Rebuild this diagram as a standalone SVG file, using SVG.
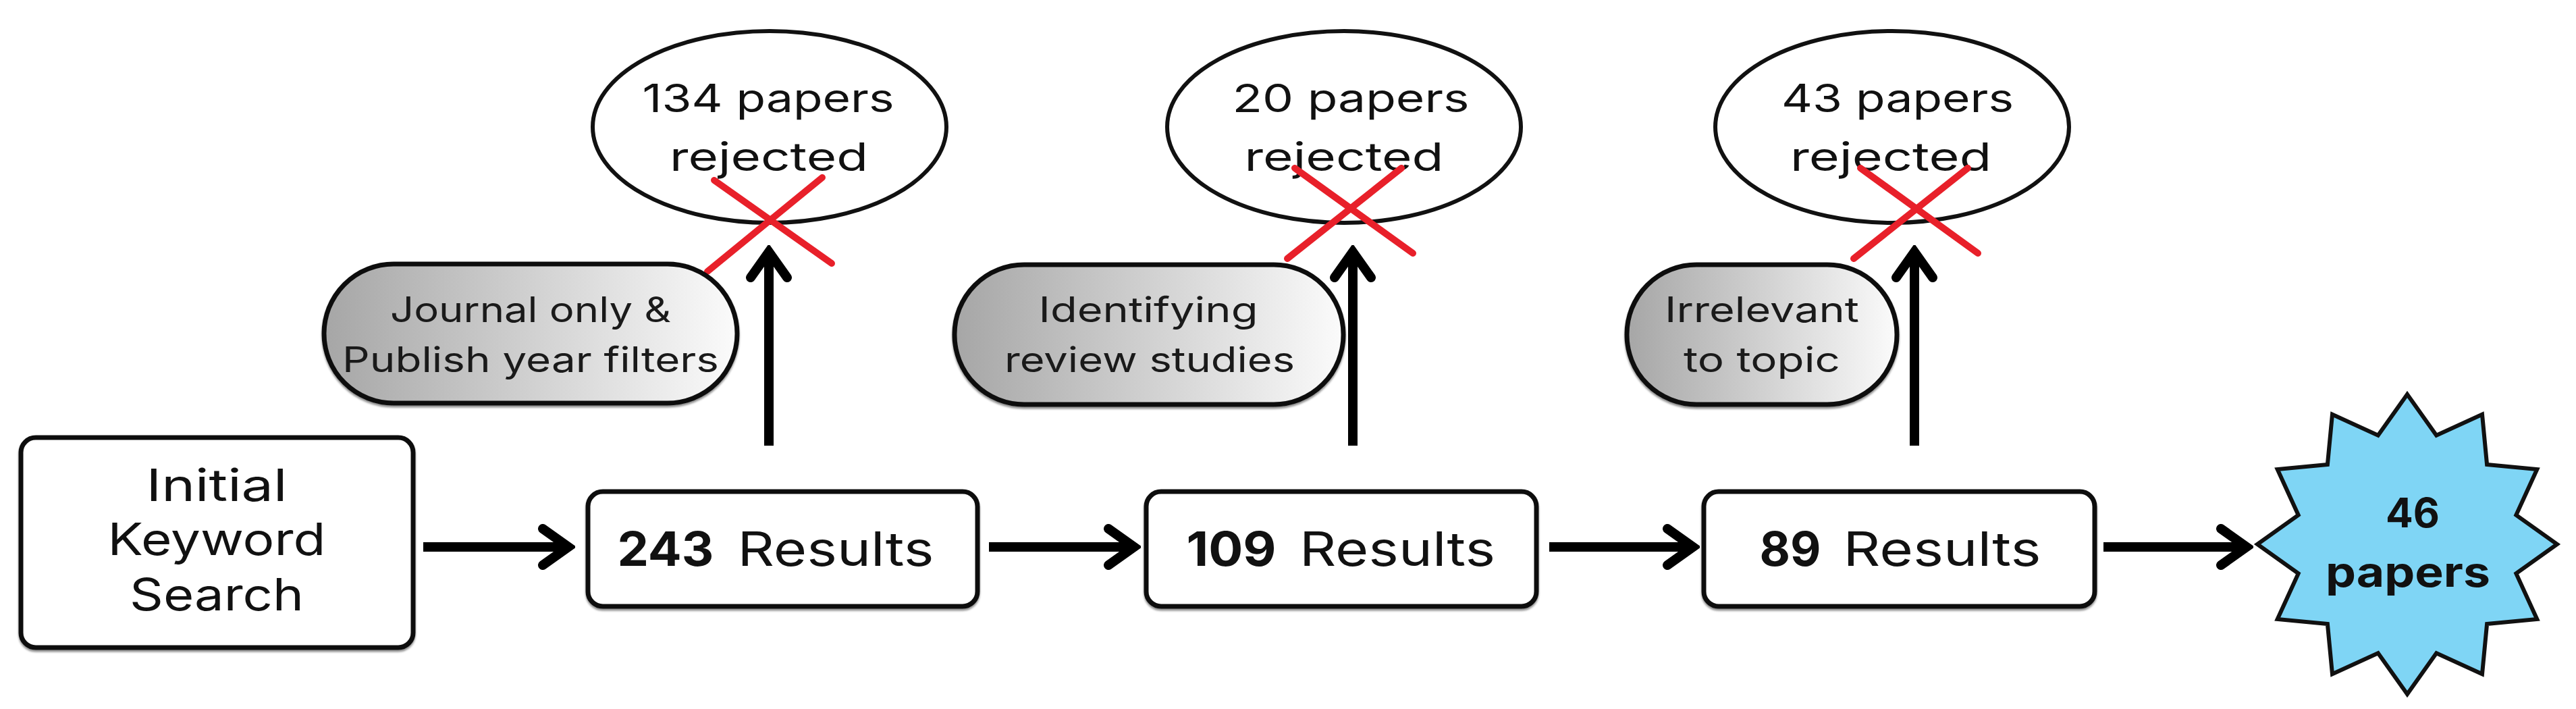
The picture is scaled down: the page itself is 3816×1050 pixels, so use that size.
<svg xmlns="http://www.w3.org/2000/svg" width="3816" height="1050" viewBox="0 0 3816 1050">
<style>
.box{fill:#ffffff;stroke:#111;stroke-width:7;filter:url(#shadow)}
.oval{fill:#ffffff;stroke:#111;stroke-width:6}
.pill{fill:url(#pillGrad);stroke:#111;stroke-width:7;filter:url(#shadow)}
.star{fill:#7fd5f5;stroke:#111;stroke-width:6;stroke-linejoin:miter}
.conn{stroke:#000;stroke-width:14;fill:none}
.cross{stroke:#e8202a;stroke-width:10;stroke-linecap:round;fill:none}
.t{font-family:Inter,Lato,"Liberation Sans",sans-serif;fill:#111;text-anchor:middle}
.ini{font-size:66px}
.res{font-size:70px}
.ov{font-size:58px}
.pl{font-size:52px;fill:#1a1a1a}
.b{font-weight:700}
</style>
<defs>
<linearGradient id="pillGrad" x1="0" y1="0" x2="1" y2="0">
<stop offset="0" stop-color="#a6a6a6"/>
<stop offset="1" stop-color="#fbfbfb"/>
</linearGradient>
<filter id="shadow" x="-5%" y="-5%" width="110%" height="115%">
<feDropShadow dx="0" dy="3" stdDeviation="1.5" flood-color="#000" flood-opacity="0.45"/>
</filter>
<marker id="arrow" markerUnits="userSpaceOnUse" viewBox="-50 -40 60 80" refX="0" refY="0" markerWidth="60" markerHeight="80" orient="auto">
<path d="M -38 -27 L 0 0 L -38 27" fill="none" stroke="#000" stroke-width="14" stroke-linecap="round" stroke-linejoin="miter"/>
</marker>
</defs>

<g id="connectors">
<line class="conn" x1="627" y1="810" x2="842" y2="810" marker-end="url(#arrow)"/>
<line class="conn" x1="1465" y1="810" x2="1680" y2="810" marker-end="url(#arrow)"/>
<line class="conn" x1="2295" y1="810" x2="2508" y2="810" marker-end="url(#arrow)"/>
<line class="conn" x1="3116" y1="810" x2="3328" y2="810" marker-end="url(#arrow)"/>
<line class="conn" x1="1139" y1="660" x2="1139" y2="373" marker-end="url(#arrow)"/>
<line class="conn" x1="2004" y1="660" x2="2004" y2="373" marker-end="url(#arrow)"/>
<line class="conn" x1="2836" y1="660" x2="2836" y2="373" marker-end="url(#arrow)"/>
</g>

<g id="initial">
<rect class="box" x="31" y="648" width="581" height="311" rx="22"/>
<text class="t ini" x="321" y="742" textLength="209" lengthAdjust="spacingAndGlyphs">Initial</text>
<text class="t ini" x="321" y="822" textLength="323" lengthAdjust="spacingAndGlyphs">Keyword</text>
<text class="t ini" x="321" y="904" textLength="258" lengthAdjust="spacingAndGlyphs">Search</text>
</g>

<g id="r243">
<rect class="box" x="871" y="728" width="577" height="170" rx="22"/>
<text class="t res" y="838"><tspan class="b" x="986" textLength="143" lengthAdjust="spacingAndGlyphs">243</tspan><tspan x="1238" textLength="291" lengthAdjust="spacingAndGlyphs">Results</tspan></text>
</g>

<g id="r109">
<rect class="box" x="1698" y="728" width="578" height="170" rx="22"/>
<text class="t res" y="838"><tspan class="b" x="1824" textLength="133" lengthAdjust="spacingAndGlyphs">109</tspan><tspan x="2070" textLength="290" lengthAdjust="spacingAndGlyphs">Results</tspan></text>
</g>

<g id="r89">
<rect class="box" x="2524" y="728" width="579" height="170" rx="22"/>
<text class="t res" y="838"><tspan class="b" x="2652" textLength="91" lengthAdjust="spacingAndGlyphs">89</tspan><tspan x="2877" textLength="293" lengthAdjust="spacingAndGlyphs">Results</tspan></text>
</g>

<g id="final">
<polygon class="star" points="3566,584 3609.2,644.7 3677,613.7 3684.1,687.9 3758.3,695 3727.3,762.8 3788,806 3727.3,849.2 3758.3,917 3684.1,924.1 3677,998.3 3609.2,967.3 3566,1028 3522.8,967.3 3455,998.3 3447.9,924.1 3373.7,917 3404.7,849.2 3344,806 3404.7,762.8 3373.7,695 3447.9,687.9 3455,613.7 3522.8,644.7"/>
<text class="t b" x="3574" y="781" font-size="60" textLength="80" lengthAdjust="spacingAndGlyphs">46</text>
<text class="t b" x="3567" y="869" font-size="62" textLength="244" lengthAdjust="spacingAndGlyphs">papers</text>
</g>

<g id="rej1">
<ellipse class="oval" cx="1140" cy="188" rx="262" ry="142"/>
<text class="t ov" x="1138" y="166" textLength="373" lengthAdjust="spacingAndGlyphs">134 papers</text>
<text class="t ov" x="1139" y="253" textLength="294" lengthAdjust="spacingAndGlyphs">rejected</text>
<path class="cross" d="M1058 267 L1232 390 M1218 263 L1048 402"/>
</g>

<g id="rej2">
<ellipse class="oval" cx="1991" cy="188" rx="262" ry="142"/>
<text class="t ov" x="2001" y="166" textLength="351" lengthAdjust="spacingAndGlyphs">20 papers</text>
<text class="t ov" x="1991" y="253" textLength="295" lengthAdjust="spacingAndGlyphs">rejected</text>
<path class="cross" d="M1918 249 L2093 375 M2076 249 L1907 383"/>
</g>

<g id="rej3">
<ellipse class="oval" cx="2803" cy="188" rx="262" ry="142"/>
<text class="t ov" x="2811" y="166" textLength="344" lengthAdjust="spacingAndGlyphs">43 papers</text>
<text class="t ov" x="2801" y="253" textLength="298" lengthAdjust="spacingAndGlyphs">rejected</text>
<path class="cross" d="M2756 249 L2930 375 M2915 249 L2746 383"/>
</g>

<g id="filter1">
<rect class="pill" x="480" y="391" width="612" height="206" rx="103"/>
<text class="t pl" x="786" y="477" textLength="416" lengthAdjust="spacingAndGlyphs">Journal only &amp;</text>
<text class="t pl" x="786" y="551" textLength="558" lengthAdjust="spacingAndGlyphs">Publish year filters</text>
</g>

<g id="filter2">
<rect class="pill" x="1414" y="392" width="576" height="207" rx="103"/>
<text class="t pl" x="1701" y="477" textLength="325" lengthAdjust="spacingAndGlyphs">Identifying</text>
<text class="t pl" x="1703" y="551" textLength="430" lengthAdjust="spacingAndGlyphs">review studies</text>
</g>

<g id="filter3">
<rect class="pill" x="2410" y="392" width="400" height="207" rx="103"/>
<text class="t pl" x="2610" y="477" textLength="288" lengthAdjust="spacingAndGlyphs">Irrelevant</text>
<text class="t pl" x="2610" y="551" textLength="232" lengthAdjust="spacingAndGlyphs">to topic</text>
</g>
</svg>
